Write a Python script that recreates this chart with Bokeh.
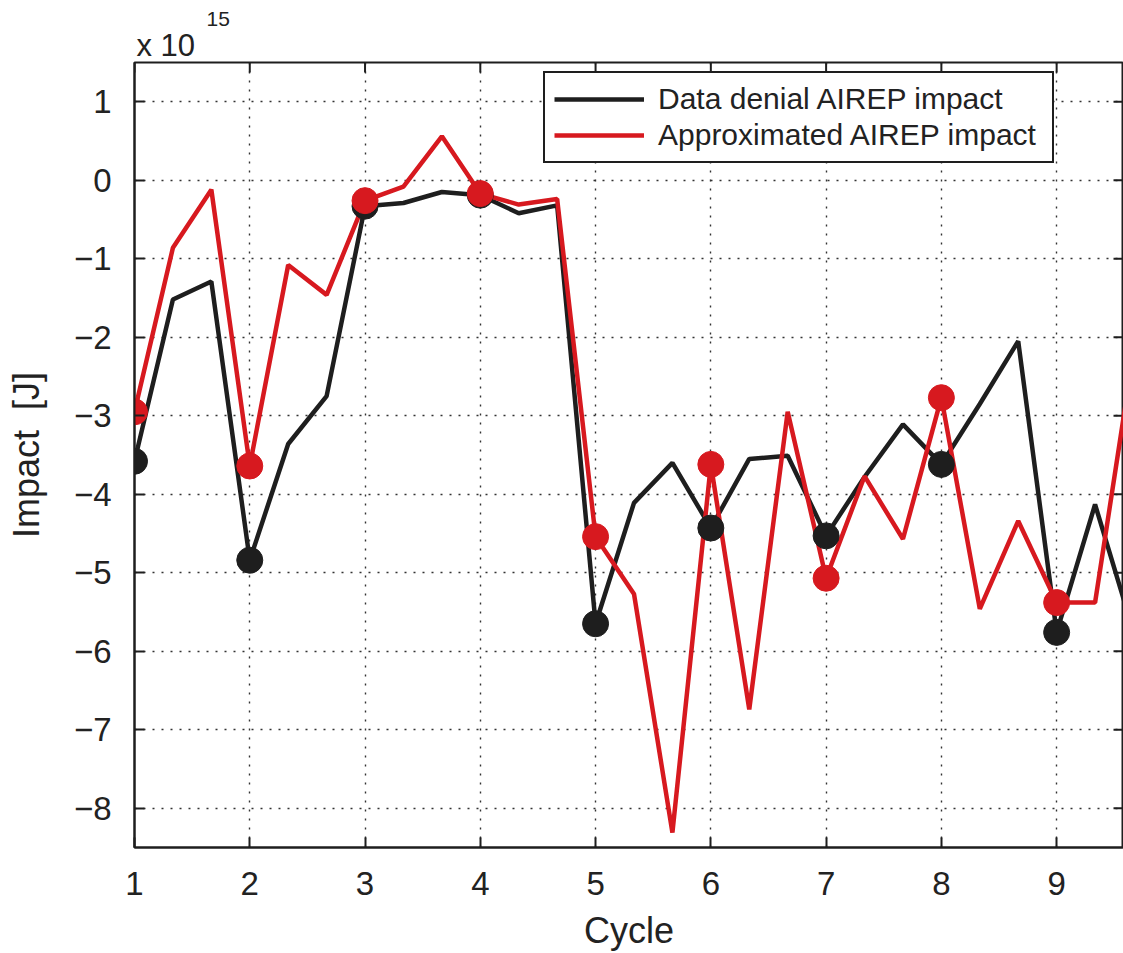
from bokeh.plotting import figure
from bokeh.models import (Legend, LegendItem, Title, CustomJSTickFormatter,
                          FixedTicker, Range1d)
from bokeh.embed import file_html
from bokeh.resources import INLINE

# ---- data (units of 1e15 J) ----
cycle = [1, 4/3, 5/3, 2, 7/3, 8/3, 3, 10/3, 11/3, 4, 13/3, 14/3, 5, 16/3, 17/3, 6,
         19/3, 20/3, 7, 22/3, 23/3, 8, 25/3, 26/3, 9, 28/3, 29/3]
data_denial = [-3.58, -1.52, -1.29, -4.84, -3.36, -2.75, -0.33, -0.29, -0.15, -0.19,
               -0.42, -0.32, -5.65, -4.11, -3.60, -4.43, -3.55, -3.51, -4.53, -3.78,
               -3.11, -3.62, -2.85, -2.05, -5.76, -4.13, -5.75]
approximated = [-2.95, -0.86, -0.12, -3.64, -1.08, -1.46, -0.26, -0.08, 0.56, -0.17,
                -0.31, -0.24, -4.54, -5.27, -8.31, -3.62, -6.74, -2.95, -5.07, -3.77,
                -4.57, -2.77, -5.46, -4.34, -5.38, -5.38, -2.2]
marker_cycles = [1, 2, 3, 4, 5, 6, 7, 8, 9]
x_ticks = [1, 2, 3, 4, 5, 6, 7, 8, 9]
y_ticks = [-8, -7, -6, -5, -4, -3, -2, -1, 0, 1]
series_names = ["Data denial AIREP impact", "Approximated AIREP impact"]

BLACK = "#1e1e1e"
RED = "#d7191f"
TEXT = "#222222"
FONT = "Liberation Sans"

X0, X1 = 1, 9.58
Y0, Y1 = -8.5, 1.5
FW, FH = 989, 785
TICK = 10  # px

marker_idx = [min(range(len(cycle)), key=lambda i: abs(cycle[i] - c)) for c in marker_cycles]
dd_m = [data_denial[i] for i in marker_idx]
ap_m = [approximated[i] for i in marker_idx]

p = figure(frame_width=FW, frame_height=FH, output_backend="svg", toolbar_location=None,
           title=None,
           x_range=Range1d(X0, X1), y_range=Range1d(Y0, Y1),
           min_border_left=134, min_border_right=0, min_border_top=62, min_border_bottom=106,
           background_fill_color="white", border_fill_color="white")

p.outline_line_color = BLACK
p.outline_line_width = 2
p.outline_line_alpha = 1

# grid
for g in (p.xgrid, p.ygrid):
    g.grid_line_color = "#333333"
    g.grid_line_dash = "2 7"
    g.grid_line_width = 1.4
p.xgrid.ticker = FixedTicker(ticks=x_ticks)
p.ygrid.ticker = FixedTicker(ticks=y_ticks)

minus_fmt = CustomJSTickFormatter(code="return tick < 0 ? '\\u2212' + Math.abs(tick) : '' + tick;")

for ax in (p.xaxis[0], p.yaxis[0]):
    ax.axis_line_width = 2
    ax.axis_line_color = BLACK
    ax.major_tick_line_color = BLACK
    ax.major_tick_line_width = 2
    ax.major_tick_in = TICK
    ax.major_tick_out = 0
    ax.minor_tick_line_color = None
    ax.major_label_text_font = FONT
    ax.major_label_text_font_size = "33px"
    ax.major_label_text_color = TEXT
    ax.axis_label_text_font = FONT
    ax.axis_label_text_font_size = "36px"
    ax.axis_label_text_font_style = "normal"
    ax.axis_label_text_color = TEXT

p.xaxis[0].ticker = FixedTicker(ticks=x_ticks)
p.yaxis[0].ticker = FixedTicker(ticks=y_ticks)
p.yaxis[0].formatter = minus_fmt
p.xaxis[0].major_label_standoff = 24
p.yaxis[0].major_label_standoff = 23
p.xaxis[0].axis_label = "Cycle"
p.xaxis[0].axis_label_standoff = 12
p.yaxis[0].axis_label = "Impact\u00a0\u00a0[J]"
p.yaxis[0].axis_label_standoff = 24

# inward ticks on top and right frame edges (mirroring the axis ticks)
tick_dy = TICK * (Y1 - Y0) / FH
tick_dx = TICK * (X1 - X0) / FW
p.segment(x0=x_ticks, y0=[Y1] * len(x_ticks), x1=x_ticks, y1=[Y1 - tick_dy] * len(x_ticks),
          line_color=BLACK, line_width=2)
p.segment(x0=[X1] * len(y_ticks), y0=y_ticks, x1=[X1 - tick_dx] * len(y_ticks), y1=y_ticks,
          line_color=BLACK, line_width=2)

# exponent as two stacked titles
p.add_layout(Title(text="x 10", text_font=FONT, text_font_size="31px",
                   text_font_style="normal", text_color=TEXT, align="left",
                   offset=2, standoff=0), "above")
p.add_layout(Title(text="15", text_font=FONT, text_font_size="21px",
                   text_font_style="normal", text_color=TEXT, align="left",
                   offset=72, standoff=0), "above")

# lines and markers
l1 = p.line(cycle, data_denial, line_color=BLACK, line_width=4.5)
l2 = p.line(cycle, approximated, line_color=RED, line_width=4.5)
p.scatter(marker_cycles, dd_m, size=26, fill_color=BLACK, line_color=BLACK)
p.scatter(marker_cycles, ap_m, size=26, fill_color=RED, line_color=RED)

legend = Legend(items=[LegendItem(label=series_names[0], renderers=[l1]),
                       LegendItem(label=series_names[1], renderers=[l2])],
                location=(409, 684))
legend.label_text_font = FONT
legend.label_text_font_size = "30px"
legend.label_text_color = TEXT
legend.glyph_width = 90
legend.glyph_height = 34
legend.label_height = 34
legend.label_width = 385
legend.label_standoff = 14
legend.padding = 9
legend.spacing = 2
legend.margin = 0
legend.border_line_color = BLACK
legend.border_line_alpha = 1
legend.border_line_width = 2
legend.background_fill_color = "white"
legend.background_fill_alpha = 1
p.add_layout(legend)

open("out.html", "w").write(file_html(p, INLINE))
